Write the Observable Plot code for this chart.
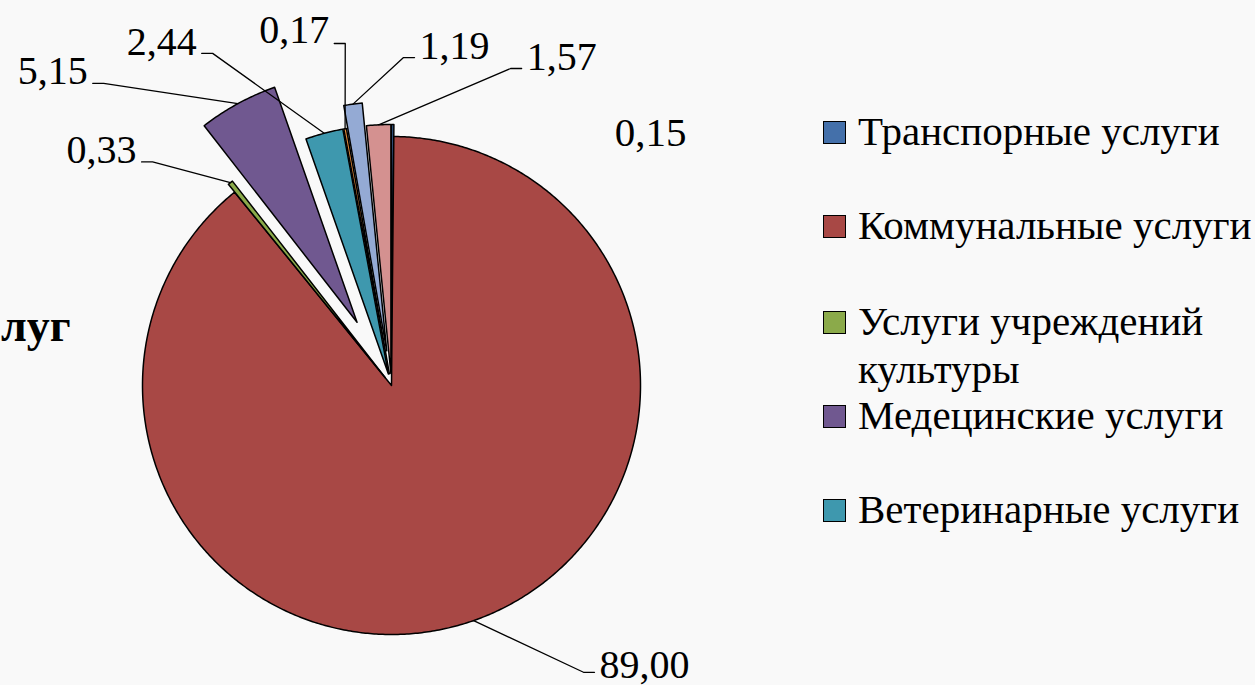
<!DOCTYPE html>
<html>
<head>
<meta charset="utf-8">
<script src="https://cdn.jsdelivr.net/npm/d3@7"></script>
<script src="https://cdn.jsdelivr.net/npm/@observablehq/plot@0.6"></script>
<style>
  html, body { margin: 0; padding: 0; background: #f9f9f9; overflow: hidden; }
  #wrap { position: relative; width: 1255px; height: 685px; }
  #chart { position: absolute; left: 0; top: 0; }
  .title { position: absolute; left: 1px; top: 303px; font: bold 46px/46px "Liberation Serif", serif; color: #000; white-space: nowrap; }
  .leg { position: absolute; left: 823px; font: 41px/48px "Liberation Serif", serif; color: #000; white-space: nowrap; }
  .leg .sw { position: absolute; left: 0; top: 13.5px; width: 21px; height: 21px; border: 1.5px solid #000; }
  .leg .tx { margin-left: 35px; }
</style>
</head>
<body>
<div id="wrap">
  <div id="chart"></div>
  <div class="title">луг</div>
  <div id="legend"></div>
</div>
<script>
// ---- data ----
const categories = [
  "Транспорные услуги",
  "Коммунальные услуги",
  "Услуги учреждений культуры",
  "Медецинские услуги",
  "Ветеринарные услуги",
  "Прочие услуги 1",
  "Прочие услуги 2",
  "Прочие услуги 3"
];
const values = [0.15, 89.00, 0.33, 5.15, 2.44, 0.17, 1.19, 1.57];
const colors = ["#4470AA", "#A84845", "#8BAA4A", "#705890", "#3E98AE", "#E08A3C", "#94AAD4", "#D49190"];
// legend entries visible in the picture
const legendShown = [0, 1, 2, 3, 4];
const legendLines = ["Транспорные услуги", "Коммунальные услуги", "Услуги учреждений<br>культуры", "Медецинские услуги", "Ветеринарные услуги"];

// ---- layout (pixels / polar placement) ----
const W = 1255, H = 685, CX = 391, CY = 385, R = 249;
const explodePx = [12, 0, 10, 72, 12, 12, 35, 12];
// label elbow in polar coords: angle (deg clockwise from top), radius in R units, side
const labelAngle = [45.7, 146.2, 313.1, 316.4, 331.7, 352.3, 2.1, 20.6];
const labelRadius = [1.454, 1.386, 1.314, 1.676, 1.515, 1.386, 1.318, 1.36];
const labelSide = [0, 1, -1, -1, -1, -1, 1, 1]; // 0 = no leader line
const labelDy = [0, 6, 1, 1, 2, 0, 1, 1];
const legendTop = [107, 201, 297, 391, 485];

const fmt = v => v.toFixed(2).replace(".", ",");
const rad = d => d * Math.PI / 180;
const pt = (r, deg, ex = 0, ey = 0) => ({x: ex + r * Math.sin(rad(deg)), y: ey + r * Math.cos(rad(deg))});

const total = d3.sum(values);
let cum = 0;
const slices = values.map((v, i) => {
  const a0 = cum / total * 360;
  cum += v;
  const a1 = cum / total * 360;
  const e = explodePx[i] / R;
  const mid = (a0 + a1) / 2;
  const off = pt(e, mid);
  return {i, v, a0, a1, mid, e, ex: off.x, ey: off.y};
});

// polygon vertices for each slice
const polyPts = [];
for (const s of slices) {
  const key = categories[s.i];
  polyPts.push({key, x: s.ex, y: s.ey});
  const n = Math.max(2, Math.ceil((s.a1 - s.a0) / 0.5));
  for (let k = 0; k <= n; k++) {
    const p = pt(1, s.a0 + (s.a1 - s.a0) * k / n, s.ex, s.ey);
    polyPts.push({key, x: p.x, y: p.y});
  }
  polyPts.push({key, x: s.ex, y: s.ey});
}

// leader lines and label anchors
const tick = 11 / R;
const leaderPts = [];
const labels = [];
for (const s of slices) {
  const side = labelSide[s.i];
  const el = pt(labelRadius[s.i], labelAngle[s.i]);
  const text = fmt(s.v);
  const dy = labelDy[s.i];
  if (side === 0) {
    labels.push({x: el.x, y: el.y, text, side, dy});
    continue;
  }
  const st = pt(1 + s.e, s.mid);
  const end = {x: el.x + side * tick, y: el.y};
  const key = categories[s.i];
  leaderPts.push({key, ...st}, {key, ...el}, {key, ...end});
  labels.push({x: end.x, y: end.y - dy / R, text, side, dy});
}

const font = "Liberation Serif, serif";
const plot = Plot.plot({
  width: W,
  height: H,
  margin: 0,
  style: {background: "transparent", overflow: "visible"},
  x: {domain: [-CX / R, (W - CX) / R], range: [0, W], axis: null},
  y: {domain: [(CY - H) / R, CY / R], range: [H, 0], axis: null},
  color: {domain: categories, range: colors},
  marks: [
    Plot.line(polyPts, {x: "x", y: "y", z: "key", fill: "key", stroke: "#000", strokeWidth: 1.5, strokeLinejoin: "round", curve: "linear"}),
    Plot.line(leaderPts, {x: "x", y: "y", z: "key", stroke: "#000", strokeWidth: 1.3, curve: "linear"}),
    Plot.text(labels.filter(d => d.side < 0), {x: "x", y: "y", text: "text", textAnchor: "end", lineAnchor: "bottom", dx: -5, fontSize: 40, fontFamily: font, fill: "#000"}),
    Plot.text(labels.filter(d => d.side > 0), {x: "x", y: "y", text: "text", textAnchor: "start", lineAnchor: "bottom", dx: 5, fontSize: 40, fontFamily: font, fill: "#000"}),
    Plot.text(labels.filter(d => d.side === 0), {x: "x", y: "y", text: "text", textAnchor: "middle", lineAnchor: "middle", fontSize: 41, fontFamily: font, fill: "#000"})
  ]
});
document.getElementById("chart").appendChild(plot);

// legend (HTML, visible part only)
const leg = document.getElementById("legend");
legendShown.forEach((ci, k) => {
  const item = document.createElement("div");
  item.className = "leg";
  item.style.top = legendTop[k] + "px";
  item.innerHTML = `<span class="sw" style="background:${colors[ci]}"></span><div class="tx">${legendLines[k]}</div>`;
  leg.appendChild(item);
});
</script>
</body>
</html>
